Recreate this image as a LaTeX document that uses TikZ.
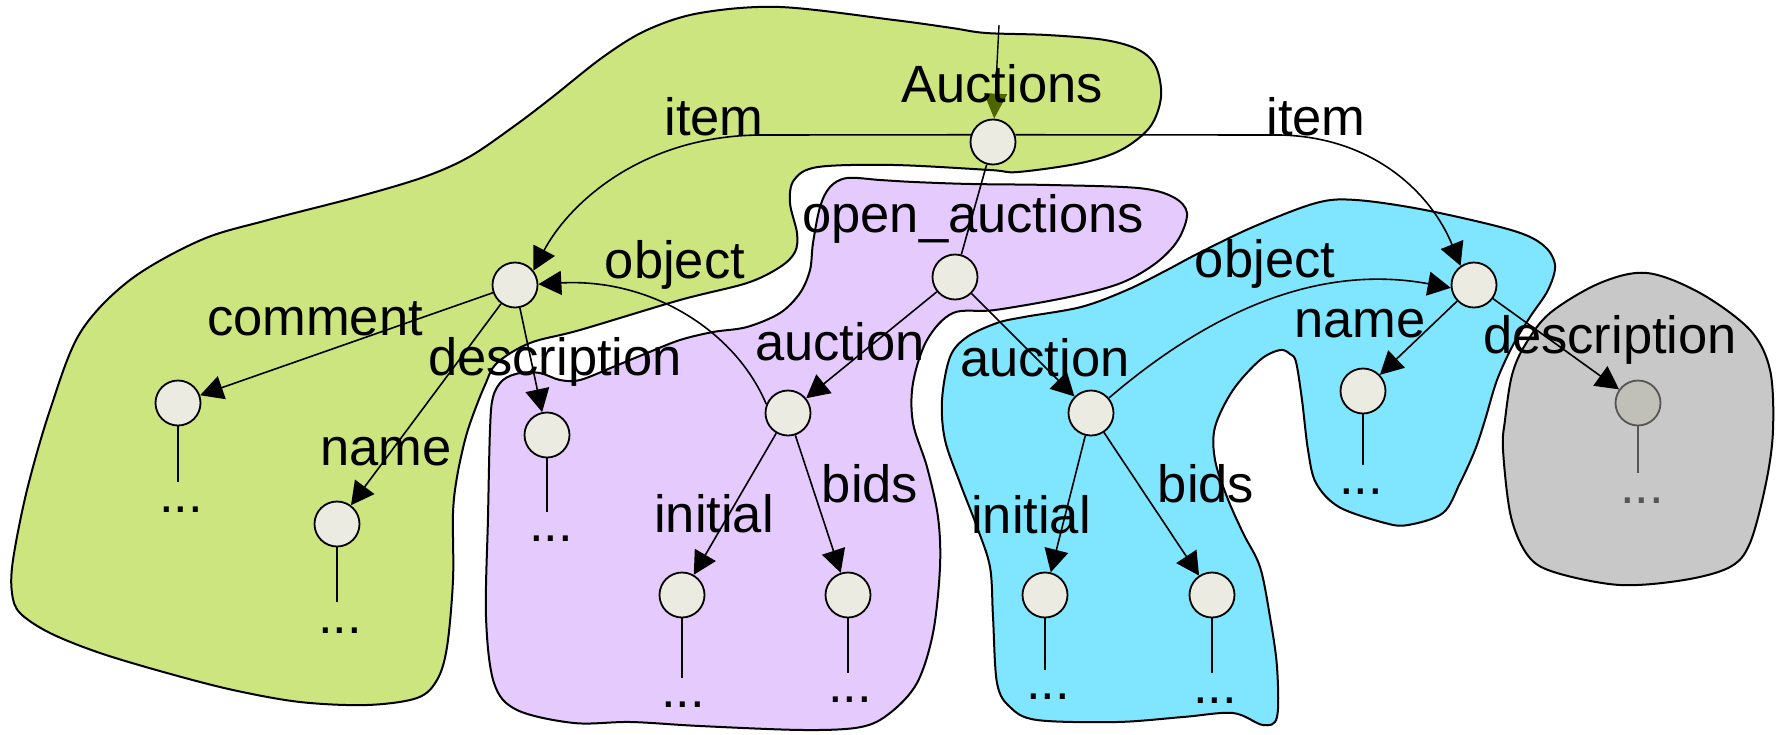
\documentclass[tikz,border=0pt]{standalone}
\usepackage{fontspec}
\setmainfont{Liberation Sans}
\usetikzlibrary{arrows.meta}
\definecolor{greenblob}{RGB}{204,229,127}
\definecolor{purpleblob}{RGB}{229,202,254}
\definecolor{blueblob}{RGB}{128,229,254}
\definecolor{grayblob}{RGB}{200,200,200}
\definecolor{nodefill}{RGB}{236,235,226}
\definecolor{graynode}{RGB}{192,191,184}
\definecolor{grayline}{RGB}{85,85,85}
\definecolor{olivetip}{RGB}{78,102,0}
\tikzset{
  blob/.style={draw=black, line width=2pt, line join=round},
  vtx/.style={circle, draw=black, line width=1.8pt, fill=nodefill, minimum size=45pt, inner sep=0pt},
  gvtx/.style={vtx, draw=grayline, fill=graynode},
  lbl/.style={font=\fontsize{52.5}{63}\selectfont, inner sep=0pt, anchor=base},
  arr/.style={line width=1.6pt, -{Triangle[length=23pt,width=24pt]}},
  stem/.style={line width=1.6pt},
}
\begin{document}
\begin{tikzpicture}[x=1pt,y=-1pt]
\useasboundingbox (0,0) rectangle (1779,734);
% ---------- blobs ----------
\draw[blob, fill=greenblob] plot[smooth cycle, tension=0.55] coordinates {
 (550,99) (603,57) (647,30) (700,13) (780,7) (894,20) (952,28) (986,33) (1047,35) (1105,40) (1139,50)
 (1156,67) (1161,97) (1150,127) (1121,150) (1081,163) (1018,172) (990,170) (894,165) (818,167)
 (794,180) (790,203) (797,233) (795,252) (780,267) (747,283) (680,300) (580,330) (530,343)
 (497,363) (485,385) (473,415) (465,440) (457,477) (453,513) (453,580) (447,647) (437,680)
 (417,698) (367,705) (300,702) (233,690) (167,673) (100,653) (50,633) (20,613) (12,593) (13,560)
 (27,490) (50,410) (80,333) (130,280) (201,240) (268,220) (357,197) (424,177)
 (469,157) (513,127)};
\draw[blob, fill=purpleblob] plot[smooth cycle, tension=0.55] coordinates {
 (830,187) (847,178) (880,180) (914,182) (971,184) (1050,185) (1138,188) (1173,197) (1187,213)
 (1178,240) (1156,263) (1121,283) (1069,297) (995,310) (953,313) (927,340) (913,383) (913,423)
 (927,467) (938,517) (940,567) (933,633) (917,683) (890,713) (861,727) (804,730)
 (700,726) (631,722) (574,723) (517,710) (494,683) (486,617) (488,517) (490,430) (493,397)
 (503,380) (520,373) (540,373) (560,380) (580,380) (613,367) (647,353) (680,340) (713,332)
 (747,327) (780,313) (800,293) (810,270) (813,243) (820,207)};
\draw[blob, fill=blueblob] plot[smooth cycle, tension=0.55] coordinates {
 (1199,253) (1253,227) (1316,203) (1356,200) (1425,210) (1511,230) (1543,245) (1555,265)
 (1548,290) (1530,317) (1513,345) (1497,380) (1485,420) (1475,450) (1460,483) (1443,513)
 (1408,525) (1385,523) (1339,507) (1316,483) (1308,450) (1302,400) (1296,362) (1290,354)
 (1280,350) (1260,360) (1233,390) (1215,427) (1215,460) (1227,497) (1243,533) (1260,567)
 (1270,617) (1277,667) (1277,717) (1263,725) (1233,713) (1183,717) (1117,722) (1037,720)
 (1010,707) (997,683) (993,617) (990,567) (977,527) (960,483) (945,440) (942,400) (950,357)
 (967,337) (997,323) (1024,317) (1081,307) (1127,290) (1167,270)};
\draw[blob, fill=grayblob] plot[smooth cycle, tension=0.55] coordinates {
 (1600,283) (1647,273) (1700,293) (1750,330) (1770,370) (1773,430) (1766,483) (1750,543)
 (1730,567) (1684,580) (1620,585) (1557,573) (1529,557) (1511,517) (1503,450) (1505,420)
 (1512,375) (1525,345) (1550,313)};
% ---------- vertices ----------
\node[vtx] (auc) at (993,142) {};
\node[vtx] (oa) at (955,277) {};
\node[vtx] (objL) at (515,285) {};
\node[vtx] (com) at (178,403) {};
\node[vtx] (nameL) at (337,524) {};
\node[vtx] (descL) at (547,435) {};
\node[vtx] (aucP) at (788,413) {};
\node[vtx] (iniP) at (682,595) {};
\node[vtx] (bidP) at (848,595) {};
\node[vtx] (objR) at (1474,285) {};
\node[vtx] (aucB) at (1091,413) {};
\node[vtx] (iniB) at (1045,595) {};
\node[vtx] (bidB) at (1212,595) {};
\node[vtx] (nameR) at (1363,391) {};
\node[gvtx] (descR) at (1638,403) {};
% ---------- connectors ----------
\coordinate (entry) at (999,25);
\draw[line width=1.4pt, -{Triangle[length=25pt,width=23pt,color=olivetip]}] (entry) -- (auc);
\draw[arr] (auc.162) -- (760,135) .. controls (640,136) and (568,205) .. (objL.38);
\draw[arr] (auc.18) -- (1280,135) .. controls (1375,137) and (1432,195) .. (objR.125);
\draw[stem] (auc) -- (oa);
\draw[arr] (oa) -- (aucP);
\draw[arr] (oa) -- (aucB);
\draw[arr] (aucP.158) .. controls (735,330) and (650,278) .. (objL.2);
\draw[arr] (aucB.40) .. controls (1200,320) and (1310,262) .. (objR.187);
\draw[arr] (objL) -- (com);
\draw[arr] (objL) -- (nameL);
\draw[arr] (objL) -- (descL);
\draw[arr] (aucP) -- (iniP);
\draw[arr] (aucP) -- (bidP);
\draw[arr] (aucB) -- (iniB);
\draw[arr] (aucB) -- (bidB);
\draw[arr] (objR) -- (nameR);
\draw[arr] (objR) -- (descR);
% ---------- stems and dots ----------
\coordinate (comE) at (178,482);
\coordinate (nameLE) at (337,602);
\coordinate (descLE) at (547,512);
\coordinate (iniPE) at (682,678);
\coordinate (bidPE) at (848,673);
\coordinate (iniBE) at (1045,670);
\coordinate (bidBE) at (1212,673);
\coordinate (nameRE) at (1363,465);
\coordinate (descRE) at (1638,473);
\draw[stem] (com) -- (comE);
\draw[stem] (nameL) -- (nameLE);
\draw[stem] (descL) -- (descLE);
\draw[stem] (iniP) -- (iniPE);
\draw[stem] (bidP) -- (bidPE);
\draw[stem] (iniB) -- (iniBE);
\draw[stem] (bidB) -- (bidBE);
\draw[stem] (nameR) -- (nameRE);
\draw[stem, grayline] (descR) -- (descRE);
\node[lbl] (comD) at (181,512) {...};
\node[lbl] (nameLD) at (340,633) {...};
\node[lbl] (descLD) at (551,541) {...};
\node[lbl] (iniPD) at (683,707) {...};
\node[lbl] (bidPD) at (850,702) {...};
\node[lbl] (iniBD) at (1048,699) {...};
\node[lbl] (bidBD) at (1215,703) {...};
\node[lbl] (nameRD) at (1361,494) {...};
\node[lbl, text=grayline] (descRD) at (1642,503) {...};
% ---------- labels ----------
\node[lbl] (tAuc) at (1002,102) {Auctions};
\node[lbl] (tItemL) at (714,135) {item};
\node[lbl] (tItemR) at (1316,135) {item};
\node[lbl] (tOA) at (973,232) {open\_auctions};
\node[lbl] (tObjL) at (675,278) {object};
\node[lbl] (tObjR) at (1265,277) {object};
\node[lbl] (tCom) at (315,335) {comment};
\node[lbl] (tDescL) at (555,375) {description};
\node[lbl] (tNameL) at (386,465) {name};
\node[lbl] (tAucP) at (840,360) {auction};
\node[lbl] (tIniP) at (714,532) {initial};
\node[lbl] (tBidP) at (870,502) {bids};
\node[lbl] (tAucB) at (1045,376) {auction};
\node[lbl] (tIniB) at (1031,533) {initial};
\node[lbl] (tBidB) at (1206,502) {bids};
\node[lbl] (tNameR) at (1360,337) {name};
\node[lbl] (tDescR) at (1610,353) {description};
\end{tikzpicture}
\end{document}
